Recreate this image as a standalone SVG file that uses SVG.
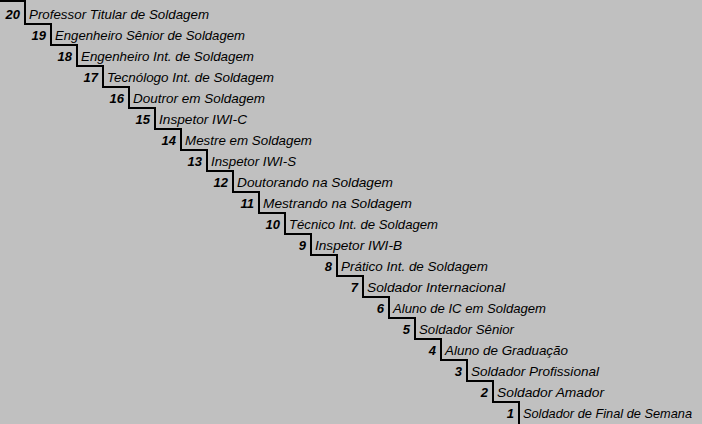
<svg xmlns="http://www.w3.org/2000/svg" width="702" height="424" viewBox="0 0 702 424">
<style>
.n{font-family:"Liberation Sans",Arial,sans-serif;font-size:13px;font-style:italic;font-weight:bold;fill:#000;text-anchor:end}
.l{font-family:"Liberation Sans",Arial,sans-serif;font-size:13px;font-style:italic;fill:#000}
.stair{fill:none;stroke:#000;stroke-width:2;stroke-linejoin:miter;stroke-linecap:square}
</style>
<rect width="702" height="424" fill="#c0c0c0"/>
<g id="connectors">
<path class="stair" d="M0 1H25V24H51V45H77V66H103V87H129V108H155V129H181V150H207V171H233V192H259V213H285V234H311V255H337V276H363V297H389V318H415V339H441V360H467V381H493V402H519V425"/>
</g>
<g id="step20"><text class="n" x="20" y="18.5">20</text><text class="l" x="29" y="18.5" textLength="180" lengthAdjust="spacingAndGlyphs">Professor Titular de Soldagem</text></g>
<g id="step19"><text class="n" x="46" y="39.5">19</text><text class="l" x="55" y="39.5" textLength="190" lengthAdjust="spacingAndGlyphs">Engenheiro Sênior de Soldagem</text></g>
<g id="step18"><text class="n" x="72" y="60.5">18</text><text class="l" x="81" y="60.5" textLength="173" lengthAdjust="spacingAndGlyphs">Engenheiro Int. de Soldagem</text></g>
<g id="step17"><text class="n" x="98" y="81.5">17</text><text class="l" x="107" y="81.5" textLength="167" lengthAdjust="spacingAndGlyphs">Tecnólogo Int. de Soldagem</text></g>
<g id="step16"><text class="n" x="124" y="102.5">16</text><text class="l" x="133" y="102.5" textLength="132" lengthAdjust="spacingAndGlyphs">Doutror em Soldagem</text></g>
<g id="step15"><text class="n" x="150" y="123.5">15</text><text class="l" x="159" y="123.5" textLength="88" lengthAdjust="spacingAndGlyphs">Inspetor IWI-C</text></g>
<g id="step14"><text class="n" x="176" y="144.5">14</text><text class="l" x="185" y="144.5" textLength="127" lengthAdjust="spacingAndGlyphs">Mestre em Soldagem</text></g>
<g id="step13"><text class="n" x="202" y="165.5">13</text><text class="l" x="211" y="165.5" textLength="85" lengthAdjust="spacingAndGlyphs">Inspetor IWI-S</text></g>
<g id="step12"><text class="n" x="228" y="186.5">12</text><text class="l" x="237" y="186.5" textLength="156" lengthAdjust="spacingAndGlyphs">Doutorando na Soldagem</text></g>
<g id="step11"><text class="n" x="254" y="207.5">11</text><text class="l" x="263" y="207.5" textLength="149" lengthAdjust="spacingAndGlyphs">Mestrando na Soldagem</text></g>
<g id="step10"><text class="n" x="280" y="228.5">10</text><text class="l" x="289" y="228.5" textLength="149" lengthAdjust="spacingAndGlyphs">Técnico Int. de Soldagem</text></g>
<g id="step9"><text class="n" x="306" y="249.5">9</text><text class="l" x="315" y="249.5" textLength="87" lengthAdjust="spacingAndGlyphs">Inspetor IWI-B</text></g>
<g id="step8"><text class="n" x="332" y="270.5">8</text><text class="l" x="341" y="270.5" textLength="147" lengthAdjust="spacingAndGlyphs">Prático Int. de Soldagem</text></g>
<g id="step7"><text class="n" x="358" y="291.5">7</text><text class="l" x="367" y="291.5" textLength="138" lengthAdjust="spacingAndGlyphs">Soldador Internacional</text></g>
<g id="step6"><text class="n" x="384" y="312.5">6</text><text class="l" x="393" y="312.5" textLength="153" lengthAdjust="spacingAndGlyphs">Aluno de IC em Soldagem</text></g>
<g id="step5"><text class="n" x="410" y="333.5">5</text><text class="l" x="419" y="333.5" textLength="95" lengthAdjust="spacingAndGlyphs">Soldador Sênior</text></g>
<g id="step4"><text class="n" x="436" y="354.5">4</text><text class="l" x="445" y="354.5" textLength="123" lengthAdjust="spacingAndGlyphs">Aluno de Graduação</text></g>
<g id="step3"><text class="n" x="462" y="375.5">3</text><text class="l" x="471" y="375.5" textLength="128" lengthAdjust="spacingAndGlyphs">Soldador Profissional</text></g>
<g id="step2"><text class="n" x="488" y="396.5">2</text><text class="l" x="497" y="396.5" textLength="107" lengthAdjust="spacingAndGlyphs">Soldador Amador</text></g>
<g id="step1"><text class="n" x="514" y="417.5">1</text><text class="l" x="523" y="417.5" textLength="169" lengthAdjust="spacingAndGlyphs">Soldador de Final de Semana</text></g>
</svg>
